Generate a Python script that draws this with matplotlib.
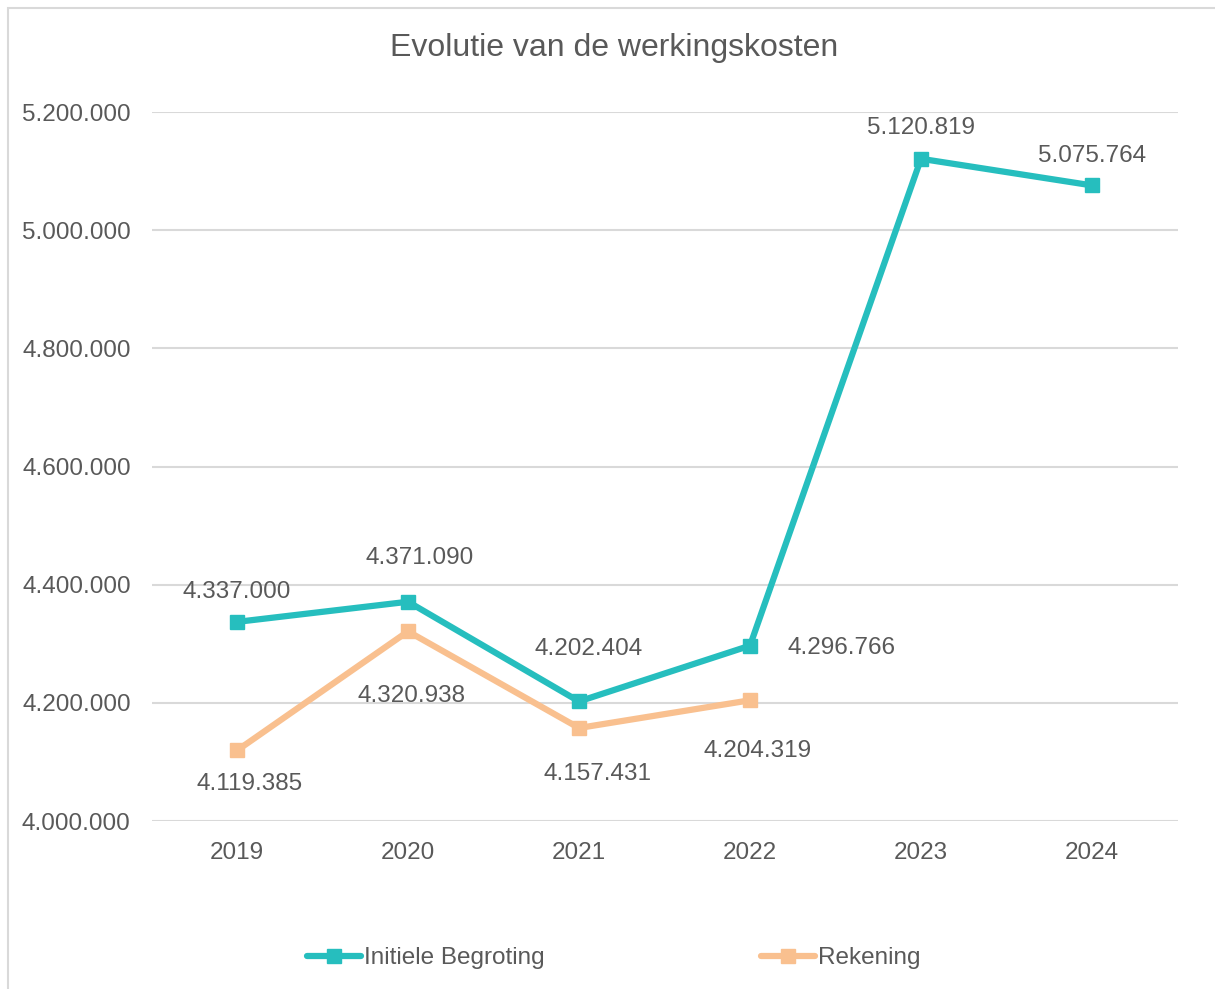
import matplotlib
matplotlib.use("Agg")
import matplotlib.pyplot as plt
from matplotlib.patches import Rectangle
from matplotlib.ticker import FuncFormatter

plt.rcParams['font.family'] = ['Liberation Sans', 'DejaVu Sans']

years = ['2019', '2020', '2021', '2022', '2023', '2024']
initiele_begroting = [4337000, 4371090, 4202404, 4296766, 5120819, 5075764]
rekening = [4119385, 4320938, 4157431, 4204319]
yticks = [4000000, 4200000, 4400000, 4600000, 4800000, 5000000, 5200000]

teal = '#26BEBE'
orange = '#F9C08F'
txt = '#595959'
grid = '#D9D9D9'

W, H = 1215, 989
fig = plt.figure(figsize=(W / 100, H / 100), dpi=100)
ax = fig.add_axes([151.5 / W, 1 - 821 / H, (1177.5 - 151.5) / W, (821 - 112) / H])

# chart frame
fig.patches.append(Rectangle((8 / W, -0.1), 1.2, 1.1 - 8 / H, transform=fig.transFigure,
                             fill=False, edgecolor=grid, linewidth=1.5))

def fmt(v):
    return f"{int(round(v)):,}".replace(',', '.')

x1 = list(range(len(initiele_begroting)))
x2 = list(range(len(rekening)))
ax.plot(x1, initiele_begroting, color=teal, lw=4.5, marker='s', ms=10,
        label='Initiele Begroting', solid_capstyle='round', zorder=3)
ax.plot(x2, rekening, color=orange, lw=4.5, marker='s', ms=10,
        label='Rekening', solid_capstyle='round', zorder=3)

fs = 17.5
off1 = [(0, 30), (12, 44), (10, 52), (92, -2), (0, 31), (0, 29)]
off2 = [(13, -34), (4, -65), (19, -46), (8, -51)]
for xi, v, o in zip(x1, initiele_begroting, off1):
    ax.annotate(fmt(v), (xi, v), xytext=o, textcoords='offset pixels',
                ha='center', va='center', fontsize=fs, color=txt)
for xi, v, o in zip(x2, rekening, off2):
    ax.annotate(fmt(v), (xi, v), xytext=o, textcoords='offset pixels',
                ha='center', va='center', fontsize=fs, color=txt)

ax.set_xlim(-0.5, len(years) - 0.5)
ax.set_ylim(yticks[0], yticks[-1])
ax.set_xticks(range(len(years)))
ax.set_xticklabels(years)
ax.set_yticks(yticks)
ax.yaxis.set_major_formatter(FuncFormatter(lambda v, p: fmt(v)))
ax.tick_params(length=0, labelsize=fs, labelcolor=txt)
ax.tick_params(axis='x', pad=15)
ax.tick_params(axis='y', pad=15)
ax.grid(axis='y', color=grid, lw=1.5)
ax.set_axisbelow(True)
for s in ax.spines.values():
    s.set_visible(False)

fig.text(614 / W, 1 - 48 / H, 'Evolutie van de werkingskosten', ha='center', va='center',
         fontsize=23, color=txt)

leg = fig.legend(loc='center', bbox_to_anchor=(614 / W, 1 - 958 / H), ncol=2,
                 frameon=False, fontsize=fs, labelcolor=txt, handlelength=2.2,
                 handletextpad=0.15, columnspacing=8.9)

fig.savefig('out.png', dpi=100)
